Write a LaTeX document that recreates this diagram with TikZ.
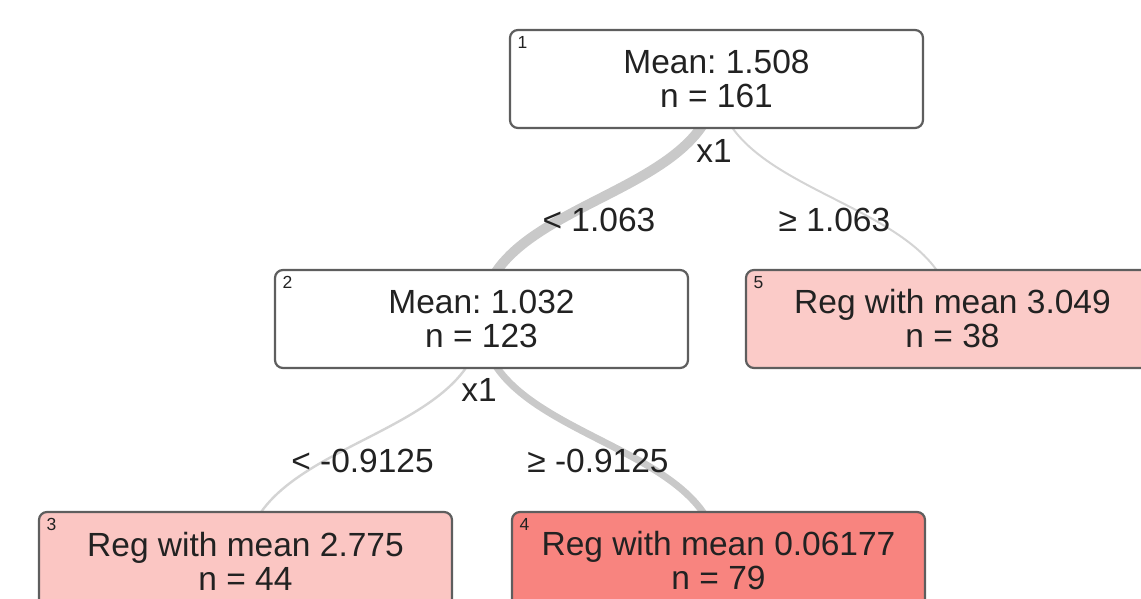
\documentclass[tikz,border=0pt]{standalone}
\usepackage{fontspec}
\setmainfont{Liberation Sans}
\usetikzlibrary{backgrounds}
\frenchspacing

\definecolor{boxline}{HTML}{5E5E5E}
\definecolor{txt}{HTML}{222222}
\definecolor{leafpale}{HTML}{FBC6C3}
\definecolor{leafpale2}{HTML}{FBCBC8}
\definecolor{leafstrong}{HTML}{F8847F}
\definecolor{edgegray}{HTML}{C9C9C9}
\definecolor{edgethin}{HTML}{D4D4D4}

\tikzset{
  treebox/.style={draw=boxline, line width=2.2pt, rounded corners=8pt,
    minimum width=413pt, minimum height=98pt, inner sep=0pt,
    align=center, text=txt, fill=white,
    font=\fontsize{33.5}{34}\selectfont},
  idx/.style={anchor=north west, inner sep=0pt, text=txt,
    font=\fontsize{17.5}{17.5}\selectfont},
  elabel/.style={inner sep=0pt, text=txt,
    font=\fontsize{33.5}{34}\selectfont},
  branch/.style={line cap=round, draw=edgethin},
}

\begin{document}
\begin{tikzpicture}[x=1pt, y=-1pt]
\useasboundingbox (0,0) rectangle (1141,599);
\begin{scope}
\clip (0,0) rectangle (1141,599);

% split nodes
\node[treebox] (n1) at (716.5,79) {Mean: 1.508\\n = 161};
\node[treebox] (n2) at (481.5,319) {Mean: 1.032\\n = 123};
% leaves
\node[treebox, fill=leafpale2] (n5) at (952.5,319) {Reg with mean 3.049\\n = 38};
\node[treebox, fill=leafpale] (n3) at (245.5,561) {Reg with mean 2.775\\n = 44};
\node[treebox, fill=leafstrong] (n4) at (718.5,561) {Reg with mean 0.06177\\n = 79};

% node numbers
\node[idx] (i1) at ([shift={(8.5,7)}]n1.north west) {1};
\node[idx] (i2) at ([shift={(8.5,7)}]n2.north west) {2};
\node[idx] (i5) at ([shift={(8.5,7)}]n5.north west) {5};
\node[idx] (i3) at ([shift={(8.5,7)}]n3.north west) {3};
\node[idx] (i4) at ([shift={(8.5,7)}]n4.north west) {4};

% split variables and thresholds
\node[elabel] (s1) at (714,151) {x1};
\node[elabel] (s2) at (479,390) {x1};
\node[elabel] (t12) at (599,220) {< 1.063};
\node[elabel] (t15) at (834.5,220) {≥ 1.063};
\node[elabel] (t23) at (362.5,461) {< -0.9125};
\node[elabel] (t24) at (598,461) {≥ -0.9125};
\end{scope}

% branches, width follows the number of observations
\begin{scope}[on background layer]
\draw[branch, draw=edgegray, line width=10pt]
  (n1.center) .. controls +(0,120) and +(0,-120) .. (n2.center);
\draw[branch, line width=2pt]
  (n1.center) .. controls +(0,120) and +(0,-120) .. (n5.center);
\draw[branch, line width=2.4pt]
  (n2.center) .. controls +(0,121) and +(0,-121) .. (n3.center);
\draw[branch, draw=edgegray, line width=7pt]
  (n2.center) .. controls +(0,121) and +(0,-121) .. (n4.center);
\end{scope}
\end{tikzpicture}
\end{document}
